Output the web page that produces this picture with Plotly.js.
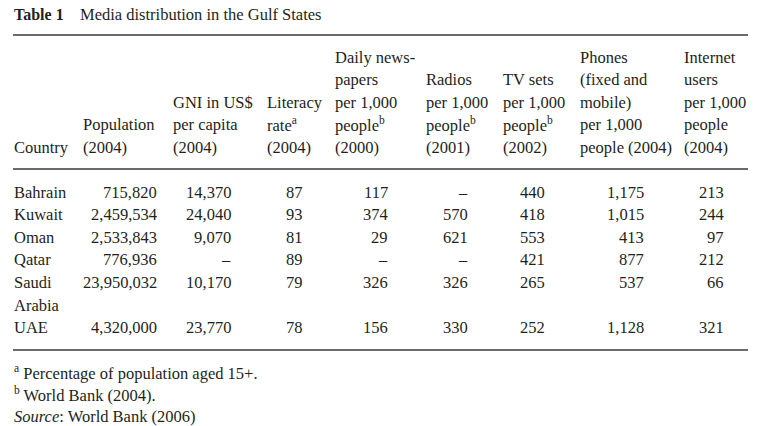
<!DOCTYPE html>
<html>
<head>
<meta charset="utf-8">
<script src="https://cdn.plot.ly/plotly-3.0.1.min.js"></script>
<style>
  html, body { margin: 0; padding: 0; background: #ffffff; }
  #chart { width: 768px; height: 426px; }
</style>
</head>
<body>
<div id="chart"></div>
<script>
// ---------------- data ----------------
const tableLabel = "Table 1";
const tableTitle = "Media distribution in the Gulf States";

const countries   = ["Bahrain", "Kuwait", "Oman", "Qatar", "Saudi Arabia", "UAE"];
const population  = [715820, 2459534, 2533843, 776936, 23950032, 4320000];
const gniPerCapita = [14370, 24040, 9070, null, 10170, 23770];
const literacy    = [87, 93, 81, 89, 79, 78];
const newspapers  = [117, 374, 29, null, 326, 156];
const radios      = [null, 570, 621, null, 326, 330];
const tvSets      = [440, 418, 553, 421, 265, 252];
const phones      = [1175, 1015, 413, 877, 537, 1128];
const internet    = [213, 244, 97, 212, 66, 321];

const headers = [
  ["Country"],
  ["Population", "(2004)"],
  ["GNI in US$", "per capita", "(2004)"],
  ["Literacy", "rate<sup>a</sup>", "(2004)"],
  ["Daily news-", "papers", "per 1,000", "people<sup>b</sup>", "(2000)"],
  ["Radios", "per 1,000", "people<sup>b</sup>", "(2001)"],
  ["TV sets", "per 1,000", "people<sup>b</sup>", "(2002)"],
  ["Phones", "(fixed and", "mobile)", "per 1,000", "people (2004)"],
  ["Internet", "users", "per 1,000", "people", "(2004)"]
];

const footnotes = [
  "<sup>a</sup> Percentage of population aged 15+.",
  "<sup>b</sup> World Bank (2004).",
  "<i>Source</i>: World Bank (2006)"
];

// ---------------- layout constants ----------------
const FONT = "Liberation Serif, Times New Roman, serif";
const INK = "#231f20";
const FS = 16.5;
const headerLeftX = [14, 83, 173, 267, 335, 426, 503, 580, 684];
const valueRightX = [null, 157, 231, 303, 388, 468, 545, 644, 724];
const headerFirstY = 57, headerLineH = 22.6, headerLines = 5;
const bodyFirstY = 192, bodyLineH = 22.6;
const footY = [372, 394, 416];
const ruleX0 = 13, ruleX1 = 748;
const ruleY = [35, 169, 350];

// ---------------- build ----------------
const fmt = v => (v === null || v === undefined) ? "–" : v.toLocaleString("en-US");
const valueCols = [population, gniPerCapita, literacy, newspapers, radios, tvSets, phones, internet];

const ann = [];
function txt(x, y, text, xanchor, extra) {
  ann.push(Object.assign({
    x: x, y: y, xref: "x", yref: "y", text: text, showarrow: false,
    xanchor: xanchor, yanchor: "middle", align: xanchor,
    borderpad: 0, borderwidth: 0,
    font: {family: FONT, size: FS, color: INK}
  }, extra || {}));
}

// title
txt(14, 14, "<b>" + tableLabel + "</b>", "left", {font: {family: FONT, size: 16, color: INK}});
txt(80, 14, tableTitle, "left");

// headers (bottom aligned)
headers.forEach((lines, c) => {
  const offset = headerLines - lines.length;
  lines.forEach((ln, i) => {
    txt(headerLeftX[c], headerFirstY + (offset + i) * headerLineH, ln, "left");
  });
});

// body rows
let line = 0;
countries.forEach((name, r) => {
  const y = bodyFirstY + line * bodyLineH;
  const nameLines = name.split(" ");
  nameLines.forEach((nl, k) => txt(headerLeftX[0], y + k * bodyLineH, nl, "left"));
  valueCols.forEach((col, c) => {
    txt(valueRightX[c + 1], y, fmt(col[r]), "right");
  });
  line += nameLines.length;
});

// footnotes
footnotes.forEach((f, i) => txt(14, footY[i], f, "left"));

const shapes = ruleY.map(y => ({
  type: "line", xref: "x", yref: "y", x0: ruleX0, x1: ruleX1, y0: y, y1: y,
  line: {color: "#3a3a3a", width: 1.3}
}));

const layout = {
  width: 768, height: 426,
  margin: {l: 0, r: 0, t: 0, b: 0},
  paper_bgcolor: "#ffffff", plot_bgcolor: "#ffffff",
  xaxis: {range: [0, 768], visible: false, fixedrange: true},
  yaxis: {range: [426, 0], visible: false, fixedrange: true},
  showlegend: false,
  annotations: ann,
  shapes: shapes
};

Plotly.newPlot("chart", [], layout, {staticPlot: true, displayModeBar: false});
</script>
</body>
</html>
